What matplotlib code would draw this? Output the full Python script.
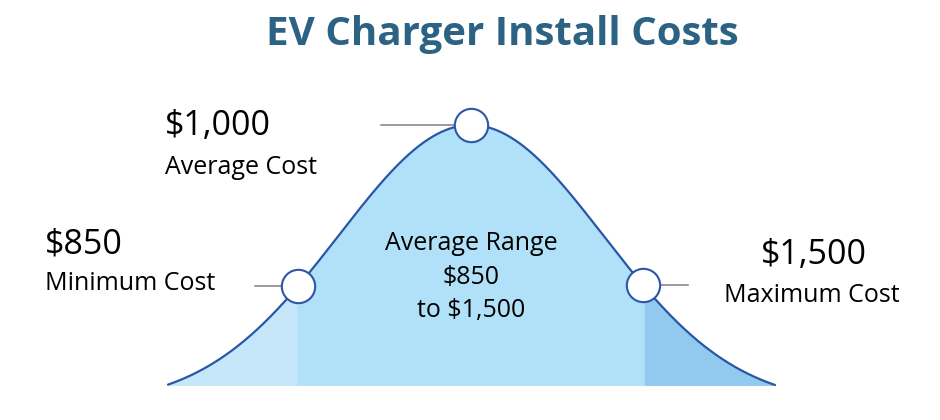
import numpy as np
import matplotlib
matplotlib.use("Agg")
import matplotlib.pyplot as plt

# chart content
title = "EV Charger Install Costs"
costs = [850, 1000, 1500]
cost_labels = ["Minimum Cost", "Average Cost", "Maximum Cost"]
range_label = "Average Range"

# layout of the schematic bell curve (pixel space)
x_start, x_end = 168, 775
peak_x, base_y, peak_y = 471, 385, 125
sigma = 132
marker_x = [298, 471, 643]

line_blue = "#2b56a8"
fills = ["#c6e7fa", "#b0e1f8", "#92c9ee"]
grey = "#808080"


def bell(x):
    g = np.exp(-(np.asarray(x) - peak_x) ** 2 / (2 * sigma ** 2))
    g_end = np.exp(-(x_end - peak_x) ** 2 / (2 * sigma ** 2))
    return base_y - (base_y - peak_y) * (g - g_end) / (1 - g_end)


def money(v):
    return "${:,}".format(v)


def main():
    plt.rcParams["font.family"] = ["Open Sans", "DejaVu Sans"]
    fig = plt.figure(figsize=(9.4, 4.2), dpi=100)
    ax = fig.add_axes([0, 0, 1, 1])
    ax.set_xlim(0, 940)
    ax.set_ylim(420, 0)
    ax.axis("off")

    xs = np.linspace(x_start, x_end, 1200)
    ys = bell(xs)

    # three shaded regions under the curve (edges drawn to hide seams)
    edges = [x_start, marker_x[0], marker_x[2], x_end]
    for i in range(3):
        m = (xs >= edges[i] - 1) & (xs <= edges[i + 1] + 1)
        ax.fill_between(xs[m], ys[m], base_y, facecolor=fills[i],
                        edgecolor=fills[i], lw=0.6, zorder=1 + (i == 1) * 0.5)
    ax.plot(xs, ys, color=line_blue, lw=1.6, zorder=3, solid_capstyle="round")

    my = bell(marker_x)
    # leader lines
    ax.plot([255, marker_x[0] - 15], [my[0], my[0]], color=grey, lw=1.1, zorder=2)
    ax.plot([381, marker_x[1] - 15], [my[1], my[1]], color=grey, lw=1.1, zorder=2)
    ax.plot([marker_x[2] + 15, 688], [my[2], my[2]], color=grey, lw=1.1, zorder=2)

    ax.plot(marker_x, my, "o", ms=24, mfc="white", mec=line_blue, mew=1.5, zorder=4)

    # annotations
    big, small = 24.5, 18
    ax.text(45, 245, money(costs[0]), fontsize=big, ha="left", va="center")
    ax.text(45, 284, cost_labels[0], fontsize=small, ha="left", va="center")
    ax.text(165, 126, money(costs[1]), fontsize=big, ha="left", va="center")
    ax.text(165, 167, cost_labels[1], fontsize=small, ha="left", va="center")
    ax.text(814, 255, money(costs[2]), fontsize=big, ha="center", va="center")
    ax.text(812, 295, cost_labels[2], fontsize=small, ha="center", va="center")

    ax.text(peak_x, 243, range_label, fontsize=small, ha="center", va="center")
    ax.text(peak_x, 277, money(costs[0]), fontsize=small, ha="center", va="center")
    ax.text(peak_x, 311, "to " + money(costs[2]), fontsize=small, ha="center", va="center")

    ax.text(502, 35, title, fontsize=29, fontweight="bold", color="#2c6284",
            ha="center", va="center")

    fig.savefig("out.png", dpi=100)


if __name__ == "__main__":
    main()
